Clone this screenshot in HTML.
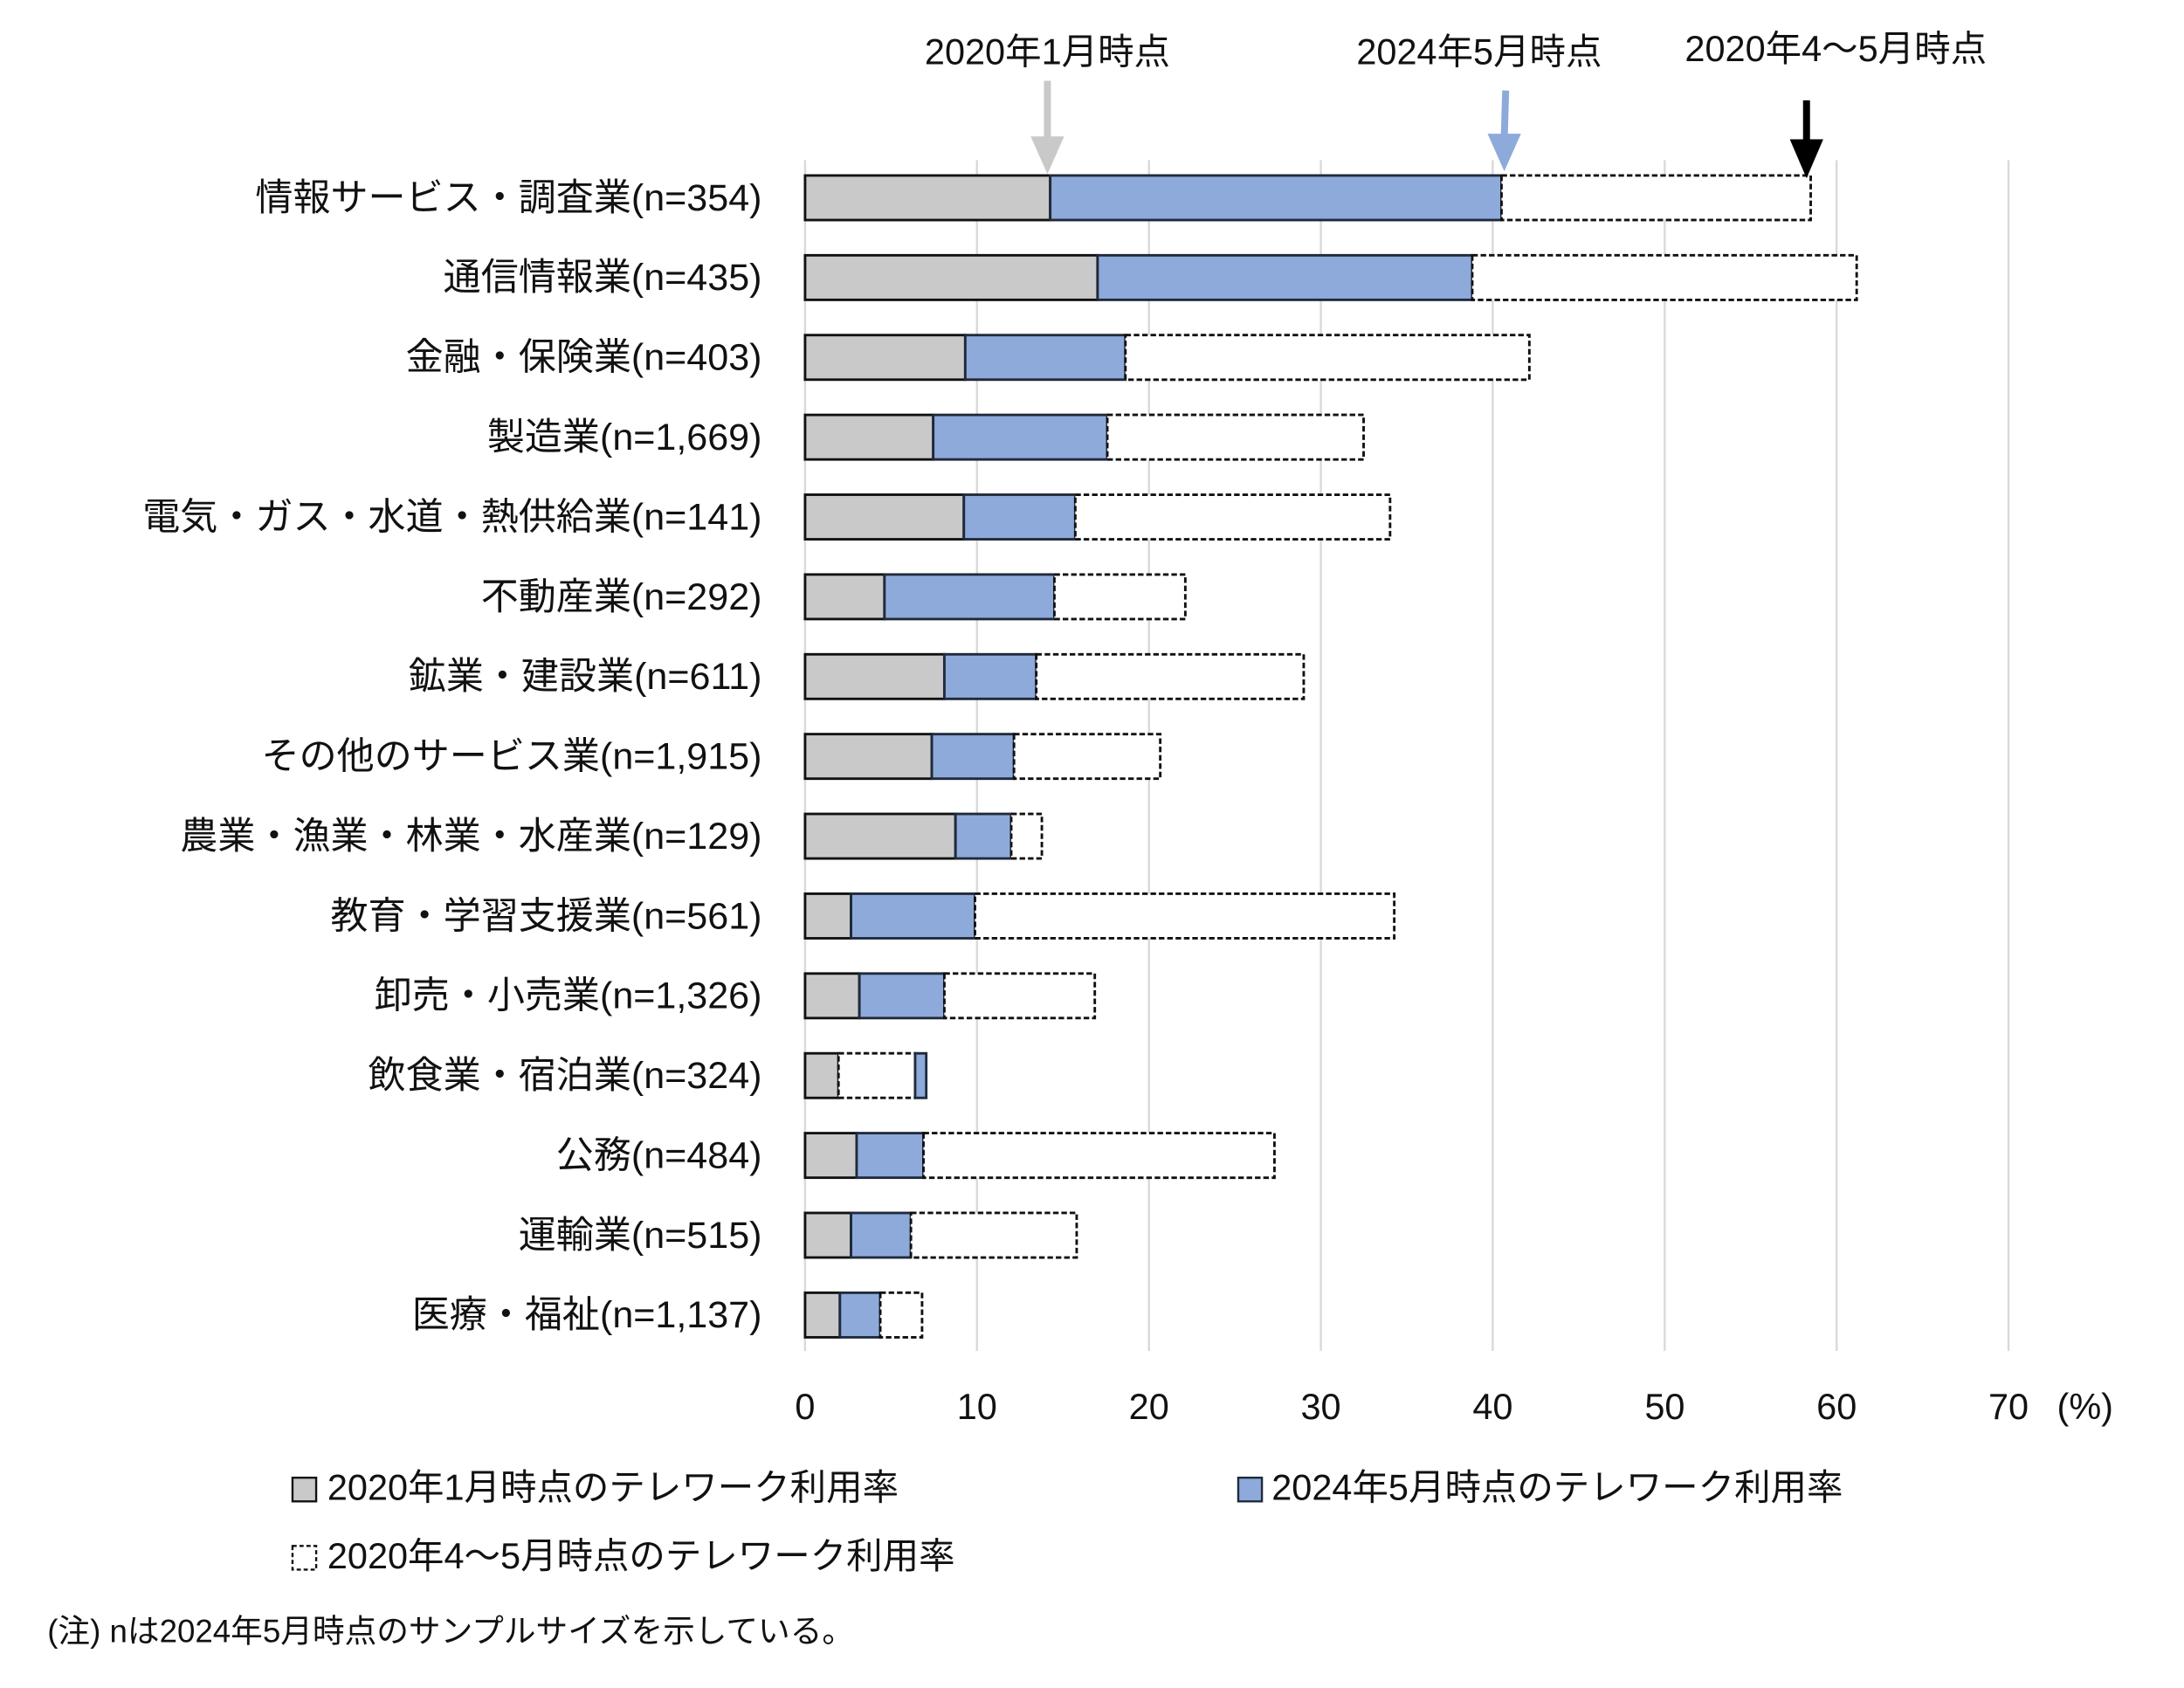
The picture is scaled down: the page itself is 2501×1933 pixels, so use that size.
<!DOCTYPE html>
<html><head><meta charset="utf-8"><style>
html,body{margin:0;padding:0;background:#fff;}
svg{display:block;}
text{font-family:"Liberation Sans","Noto Sans CJK JP",sans-serif;fill:#111;}
</style></head><body>
<svg width="2501" height="1933" viewBox="0 0 1568 1212" preserveAspectRatio="none" xmlns="http://www.w3.org/2000/svg">
<g stroke="#d9d9d9" stroke-width="1.5">
<line x1="578" y1="115" x2="578" y2="970"/><line x1="701.4" y1="115" x2="701.4" y2="970"/><line x1="824.9" y1="115" x2="824.9" y2="970"/><line x1="948.3" y1="115" x2="948.3" y2="970"/><line x1="1071.7" y1="115" x2="1071.7" y2="970"/><line x1="1195.2" y1="115" x2="1195.2" y2="970"/><line x1="1318.6" y1="115" x2="1318.6" y2="970"/><line x1="1442" y1="115" x2="1442" y2="970"/>
</g>
<g font-size="26" text-anchor="middle">
<text x="578" y="1019">0</text><text x="701.4" y="1019">10</text><text x="824.9" y="1019">20</text><text x="948.3" y="1019">30</text><text x="1071.7" y="1019">40</text><text x="1195.2" y="1019">50</text><text x="1318.6" y="1019">60</text><text x="1442" y="1019">70</text><text x="1497" y="1019">(%)</text>
</g>
<g stroke-width="1.8">
<g transform="translate(0,126)"><rect x="578" y="0" width="176" height="32" fill="#c9c9c9" stroke="#111"/><rect x="754" y="0" width="324" height="32" fill="#8eaadb" stroke="#1f2a3a"/><rect x="1078" y="0" width="222" height="32" fill="#fff" stroke="#111" stroke-dasharray="4,2"/></g>
<g transform="translate(0,183.3)"><rect x="578" y="0" width="210" height="32" fill="#c9c9c9" stroke="#111"/><rect x="788" y="0" width="269" height="32" fill="#8eaadb" stroke="#1f2a3a"/><rect x="1057" y="0" width="276" height="32" fill="#fff" stroke="#111" stroke-dasharray="4,2"/></g>
<g transform="translate(0,240.6)"><rect x="578" y="0" width="115" height="32" fill="#c9c9c9" stroke="#111"/><rect x="693" y="0" width="115" height="32" fill="#8eaadb" stroke="#1f2a3a"/><rect x="808" y="0" width="290" height="32" fill="#fff" stroke="#111" stroke-dasharray="4,2"/></g>
<g transform="translate(0,297.9)"><rect x="578" y="0" width="92" height="32" fill="#c9c9c9" stroke="#111"/><rect x="670" y="0" width="125" height="32" fill="#8eaadb" stroke="#1f2a3a"/><rect x="795" y="0" width="184" height="32" fill="#fff" stroke="#111" stroke-dasharray="4,2"/></g>
<g transform="translate(0,355.2)"><rect x="578" y="0" width="114" height="32" fill="#c9c9c9" stroke="#111"/><rect x="692" y="0" width="80" height="32" fill="#8eaadb" stroke="#1f2a3a"/><rect x="772" y="0" width="226" height="32" fill="#fff" stroke="#111" stroke-dasharray="4,2"/></g>
<g transform="translate(0,412.5)"><rect x="578" y="0" width="57" height="32" fill="#c9c9c9" stroke="#111"/><rect x="635" y="0" width="122" height="32" fill="#8eaadb" stroke="#1f2a3a"/><rect x="757" y="0" width="94" height="32" fill="#fff" stroke="#111" stroke-dasharray="4,2"/></g>
<g transform="translate(0,469.8)"><rect x="578" y="0" width="100" height="32" fill="#c9c9c9" stroke="#111"/><rect x="678" y="0" width="66" height="32" fill="#8eaadb" stroke="#1f2a3a"/><rect x="744" y="0" width="192" height="32" fill="#fff" stroke="#111" stroke-dasharray="4,2"/></g>
<g transform="translate(0,527.1)"><rect x="578" y="0" width="91" height="32" fill="#c9c9c9" stroke="#111"/><rect x="669" y="0" width="59" height="32" fill="#8eaadb" stroke="#1f2a3a"/><rect x="728" y="0" width="105" height="32" fill="#fff" stroke="#111" stroke-dasharray="4,2"/></g>
<g transform="translate(0,584.4)"><rect x="578" y="0" width="108" height="32" fill="#c9c9c9" stroke="#111"/><rect x="686" y="0" width="40" height="32" fill="#8eaadb" stroke="#1f2a3a"/><rect x="726" y="0" width="22" height="32" fill="#fff" stroke="#111" stroke-dasharray="4,2"/></g>
<g transform="translate(0,641.7)"><rect x="578" y="0" width="33" height="32" fill="#c9c9c9" stroke="#111"/><rect x="611" y="0" width="89" height="32" fill="#8eaadb" stroke="#1f2a3a"/><rect x="700" y="0" width="301" height="32" fill="#fff" stroke="#111" stroke-dasharray="4,2"/></g>
<g transform="translate(0,699)"><rect x="578" y="0" width="39" height="32" fill="#c9c9c9" stroke="#111"/><rect x="617" y="0" width="61" height="32" fill="#8eaadb" stroke="#1f2a3a"/><rect x="678" y="0" width="108" height="32" fill="#fff" stroke="#111" stroke-dasharray="4,2"/></g>
<g transform="translate(0,756.3)"><rect x="578" y="0" width="24" height="32" fill="#c9c9c9" stroke="#111"/><rect x="602" y="0" width="55" height="32" fill="#fff" stroke="#111" stroke-dasharray="4,2"/><rect x="657" y="0" width="8" height="32" fill="#8eaadb" stroke="#1f2a3a"/></g>
<g transform="translate(0,813.6)"><rect x="578" y="0" width="37" height="32" fill="#c9c9c9" stroke="#111"/><rect x="615" y="0" width="48" height="32" fill="#8eaadb" stroke="#1f2a3a"/><rect x="663" y="0" width="252" height="32" fill="#fff" stroke="#111" stroke-dasharray="4,2"/></g>
<g transform="translate(0,870.9)"><rect x="578" y="0" width="33" height="32" fill="#c9c9c9" stroke="#111"/><rect x="611" y="0" width="43" height="32" fill="#8eaadb" stroke="#1f2a3a"/><rect x="654" y="0" width="119" height="32" fill="#fff" stroke="#111" stroke-dasharray="4,2"/></g>
<g transform="translate(0,928.2)"><rect x="578" y="0" width="25" height="32" fill="#c9c9c9" stroke="#111"/><rect x="603" y="0" width="29" height="32" fill="#8eaadb" stroke="#1f2a3a"/><rect x="632" y="0" width="30" height="32" fill="#fff" stroke="#111" stroke-dasharray="4,2"/></g>
</g>
<g font-size="27" text-anchor="end">
<text x="547" y="151">情報サービス・調査業(n=354)</text>
<text x="547" y="208.3">通信情報業(n=435)</text>
<text x="547" y="265.6">金融・保険業(n=403)</text>
<text x="547" y="322.9">製造業(n=1,669)</text>
<text x="547" y="380.2">電気・ガス・水道・熱供給業(n=141)</text>
<text x="547" y="437.5">不動産業(n=292)</text>
<text x="547" y="494.8">鉱業・建設業(n=611)</text>
<text x="547" y="552.1">その他のサービス業(n=1,915)</text>
<text x="547" y="609.4">農業・漁業・林業・水産業(n=129)</text>
<text x="547" y="666.7">教育・学習支援業(n=561)</text>
<text x="547" y="724">卸売・小売業(n=1,326)</text>
<text x="547" y="781.3">飲食業・宿泊業(n=324)</text>
<text x="547" y="838.6">公務(n=484)</text>
<text x="547" y="895.9">運輸業(n=515)</text>
<text x="547" y="953.2">医療・福祉(n=1,137)</text>
</g>
<g font-size="26" text-anchor="middle">
<text x="752" y="46">2020年1月時点</text>
<text x="1062" y="46">2024年5月時点</text>
<text x="1318" y="44">2020年4〜5月時点</text>
</g>
<line x1="752" y1="58" x2="752" y2="100" stroke="#c9c9c9" stroke-width="5"/>
<polygon points="740,98 764,98 752,125" fill="#c9c9c9"/>
<line x1="1081" y1="65" x2="1080" y2="98" stroke="#8eaadb" stroke-width="5"/>
<polygon points="1068,96 1092,96 1080,123" fill="#8eaadb"/>
<line x1="1297" y1="72" x2="1297" y2="102" stroke="#000" stroke-width="5"/>
<polygon points="1285,100 1309,100 1297,128" fill="#000"/>
<rect x="210" y="1061" width="17" height="17" fill="#c9c9c9" stroke="#111" stroke-width="1.5"/>
<text x="235" y="1077" font-size="26">2020年1月時点のテレワーク利用率</text>
<rect x="889" y="1061" width="17" height="17" fill="#8eaadb" stroke="#1f2a3a" stroke-width="1.5"/>
<text x="913" y="1077" font-size="26">2024年5月時点のテレワーク利用率</text>
<rect x="210" y="1110" width="17" height="17" fill="#fff" stroke="#111" stroke-width="1.5" stroke-dasharray="3,2"/>
<text x="235" y="1126" font-size="26">2020年4〜5月時点のテレワーク利用率</text>
<text x="34" y="1179" font-size="23">(注) nは2024年5月時点のサンプルサイズを示している。</text>
</svg>
</body></html>
